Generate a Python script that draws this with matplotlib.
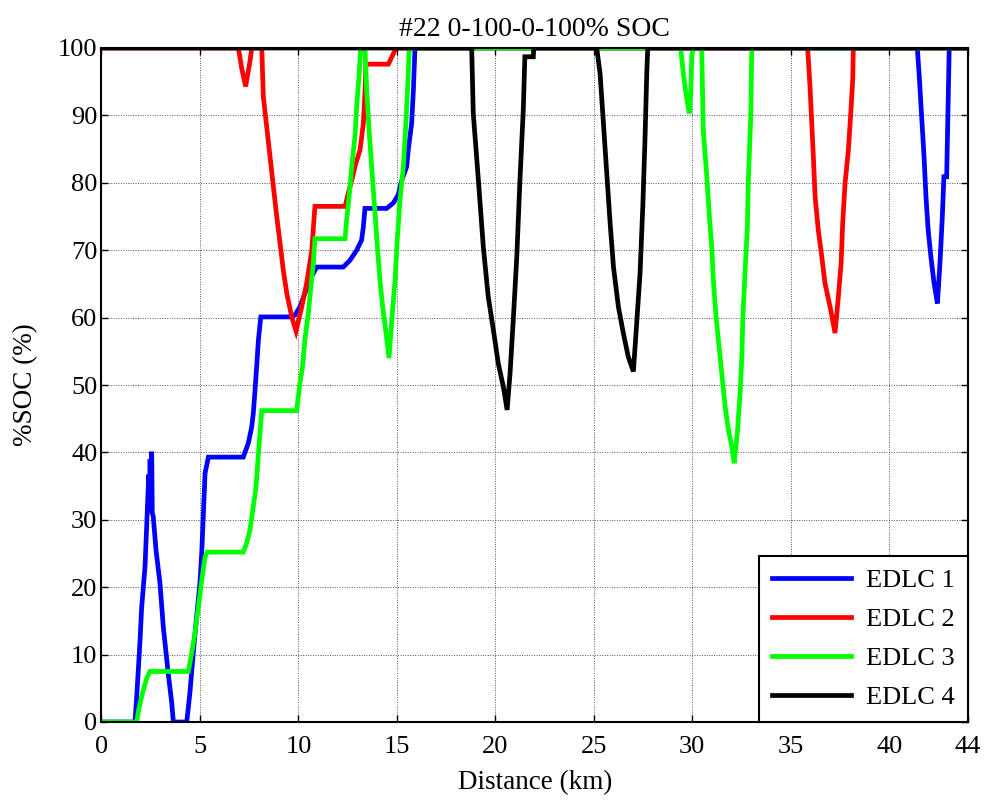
import matplotlib
matplotlib.use("Agg")
import matplotlib.pyplot as plt

plt.rcParams['font.family'] = ['Liberation Serif', 'DejaVu Serif']

# Distance (km) and state of charge (%) for each EDLC
edlc1_km = [0, 1.70, 1.79, 1.87, 1.96, 2.04, 2.21, 2.30, 2.40, 2.44, 2.47, 2.50, 2.53, 2.55, 2.58, 2.63,
            2.77, 2.97, 3.14, 3.39, 3.57, 3.65, 4.33, 4.49, 4.66, 4.83, 5.00, 5.09, 5.17, 5.26, 5.43,
            7.20, 7.46, 7.63, 7.71, 7.80, 7.88, 7.97, 8.09, 9.66, 9.83, 10.08, 10.33, 10.59, 10.93,
            12.28, 12.62, 12.96, 13.21, 13.30, 13.38, 14.48, 14.82, 15.07, 15.25, 15.50, 15.58,
            15.75, 15.84, 15.92, 41.43, 41.53, 41.65, 41.77, 41.87, 41.98, 42.12, 42.28, 42.45,
            42.58, 42.70, 42.78, 42.92, 43.05, 44]
edlc1_soc = [0, 0, 3.8, 7.7, 12.2, 17.0, 23.0, 29.4, 36.7, 31.0, 39.0, 33.0, 38.0, 40.1, 31.0, 30.5,
             25.5, 20.6, 14.1, 7.2, 2.8, 0, 0, 4.3, 10.2, 15.6, 20.6, 25.0, 30.5, 36.9, 39.3,
             39.3, 41.4, 43.8, 45.8, 49.3, 52.7, 56.7, 60.1, 60.1, 60.4, 61.6, 63.6, 65.6, 67.5,
             67.5, 68.5, 70.0, 71.5, 73.5, 76.2, 76.2, 77.0, 78.2, 80.4, 82.4, 84.9,
             88.8, 93.8, 100, 100, 95.7, 89.8, 83.9, 77.9, 73.0, 69.0, 65.1, 62.1,
             68.1, 75.0, 80.9, 80.9, 100, 100]

edlc2_km = [0, 6.95, 7.12, 7.32, 7.54, 7.63, 8.14, 8.22, 8.39, 8.56, 8.73, 8.90, 9.07, 9.23, 9.41,
            9.66, 9.88, 10.17, 10.42, 10.68, 10.84, 12.37, 12.53, 12.71, 12.87, 13.13, 13.30,
            13.38, 13.43, 14.57, 14.96, 35.86, 35.98, 36.07, 36.15, 36.24, 36.40, 36.58, 36.74,
            37.00, 37.25, 37.42, 37.56, 37.64, 37.76, 37.93, 38.05, 38.15, 38.18, 44]
edlc2_soc = [100, 100, 97.0, 94.3, 98.0, 100, 100, 92.8, 88.3, 83.9, 79.4, 75.0, 71.0, 67.1, 63.6,
             60.1, 58.0, 61.6, 65.1, 70.0, 76.5, 76.5, 78.4, 80.4, 82.4, 84.9, 88.8,
             93.3, 97.6, 97.6, 100, 100, 94.3, 88.8, 83.9, 77.9, 73.0, 69.0, 65.1,
             61.6, 57.7, 63.1, 68.1, 74.0, 79.9, 84.9, 90.3, 95.3, 100, 100]

edlc3_km = [0, 1.79, 1.90, 2.10, 2.30, 2.46, 4.41, 4.58, 4.75, 4.92, 5.09, 5.26, 5.37, 7.20, 7.37,
            7.54, 7.71, 7.85, 7.96, 8.05, 8.14, 9.91, 10.08, 10.20, 10.33, 10.50, 10.62, 10.76,
            10.84, 12.37, 12.45, 12.59, 12.71, 12.87, 12.96, 13.09, 13.16, 13.38, 13.47, 13.60,
            13.77, 13.89, 14.01, 14.14, 14.28, 14.45, 14.60, 14.74, 14.91, 15.02, 15.16, 15.33,
            15.46, 15.58, 15.63, 29.41, 29.55, 29.68, 29.85, 29.93, 29.98, 30.06, 30.48, 30.56,
            30.74, 30.87, 30.99, 31.07, 31.21, 31.38, 31.55, 31.67, 31.84, 32.01, 32.13, 32.30,
            32.43, 32.52, 32.57, 32.68, 32.80, 32.85, 32.97, 33.02, 33.05, 44]
edlc3_soc = [0, 0, 2.0, 4.5, 6.5, 7.5, 7.5, 10.2, 13.2, 17.1, 21.0, 24.5, 25.2, 25.2, 26.5,
             28.5, 32.0, 34.9, 39.4, 42.9, 46.2, 46.2, 50.3, 52.5, 56.7, 60.6, 64.1, 68.1,
             71.7, 71.7, 74.5, 78.4, 82.4, 86.8, 91.3, 96.2, 100, 100, 93.8, 87.3,
             80.4, 75.5, 70.5, 65.6, 61.6, 57.7, 54.0, 59.6, 65.6, 71.5, 77.5, 82.4,
             88.8, 96.2, 100, 100, 96.2, 93.3, 90.3, 93.8, 99.0, 100, 100, 87.8,
             80.9, 75.0, 70.5, 65.6, 60.1, 55.2, 50.3, 46.8, 43.3, 40.8, 38.4, 43.3,
             48.8, 54.2, 60.1, 66.6, 73.5, 80.4, 89.8, 99.2, 100, 100]

edlc4_km = [0, 18.80, 18.88, 19.14, 19.39, 19.64, 19.90, 20.15, 20.41, 20.60, 20.75, 20.92, 21.09,
            21.25, 21.42, 21.50, 21.93, 21.95, 25.15, 25.32, 25.49, 25.66, 25.83, 26.00, 26.25,
            26.50, 26.75, 27.01, 27.18, 27.35, 27.49, 27.60, 27.69, 27.74, 44]
edlc4_soc = [100, 100, 90.3, 80.4, 70.5, 63.1, 58.2, 53.2, 49.7, 46.3, 51.8, 60.1, 69.0,
             80.4, 90.8, 98.7, 98.7, 100, 100, 96.2, 88.8, 81.4, 74.0, 67.5, 61.6,
             57.7, 54.2, 52.0, 59.2, 66.6, 76.5, 86.4, 96.2, 100, 100]

series = [
    ("EDLC 1", edlc1_km, edlc1_soc, "#0000ff"),
    ("EDLC 2", edlc2_km, edlc2_soc, "#ff0000"),
    ("EDLC 3", edlc3_km, edlc3_soc, "#00ff00"),
    ("EDLC 4", edlc4_km, edlc4_soc, "#000000"),
]

x_ticks = [0, 5, 10, 15, 20, 25, 30, 35, 40, 44]
y_ticks = [0, 10, 20, 30, 40, 50, 60, 70, 80, 90, 100]

fig = plt.figure(figsize=(9.89, 8.0), dpi=100)
ax = fig.add_axes([0.1026, 0.0975, 0.8761, 0.8425])

for label, xs, ys, color in series:
    ax.plot(xs, ys, color=color, lw=3.4, label=label, solid_joinstyle='miter')

ax.set_xlim(0, 44)
ax.set_ylim(0, 100)
ax.set_xticks(x_ticks)
ax.set_yticks(y_ticks)
ax.grid(True, color='#555555', linestyle=(0, (1, 1.5)), linewidth=0.7)
ax.tick_params(direction='in', top=True, right=True, length=5, width=1.0, labelsize=19)
ax.tick_params(axis='x', pad=10)
ax.tick_params(axis='y', pad=3)
for sp in ax.spines.values():
    sp.set_linewidth(1.5)

ax.set_title("#22 0-100-0-100% SOC", fontsize=20, pad=9)
ax.set_xlabel("Distance (km)", fontsize=19.5, labelpad=9)
ax.set_ylabel("%SOC (%)", fontsize=19.5, labelpad=14)

leg = ax.legend(loc='lower right', bbox_to_anchor=(1.0, 0.0), borderaxespad=0.0,
                fontsize=19, handlelength=3.0, labelspacing=0.58, fancybox=False,
                framealpha=1.0, edgecolor='black', handletextpad=0.55, borderpad=0.5)
leg.get_frame().set_linewidth(1.5)

fig.savefig("out.png", dpi=100)
